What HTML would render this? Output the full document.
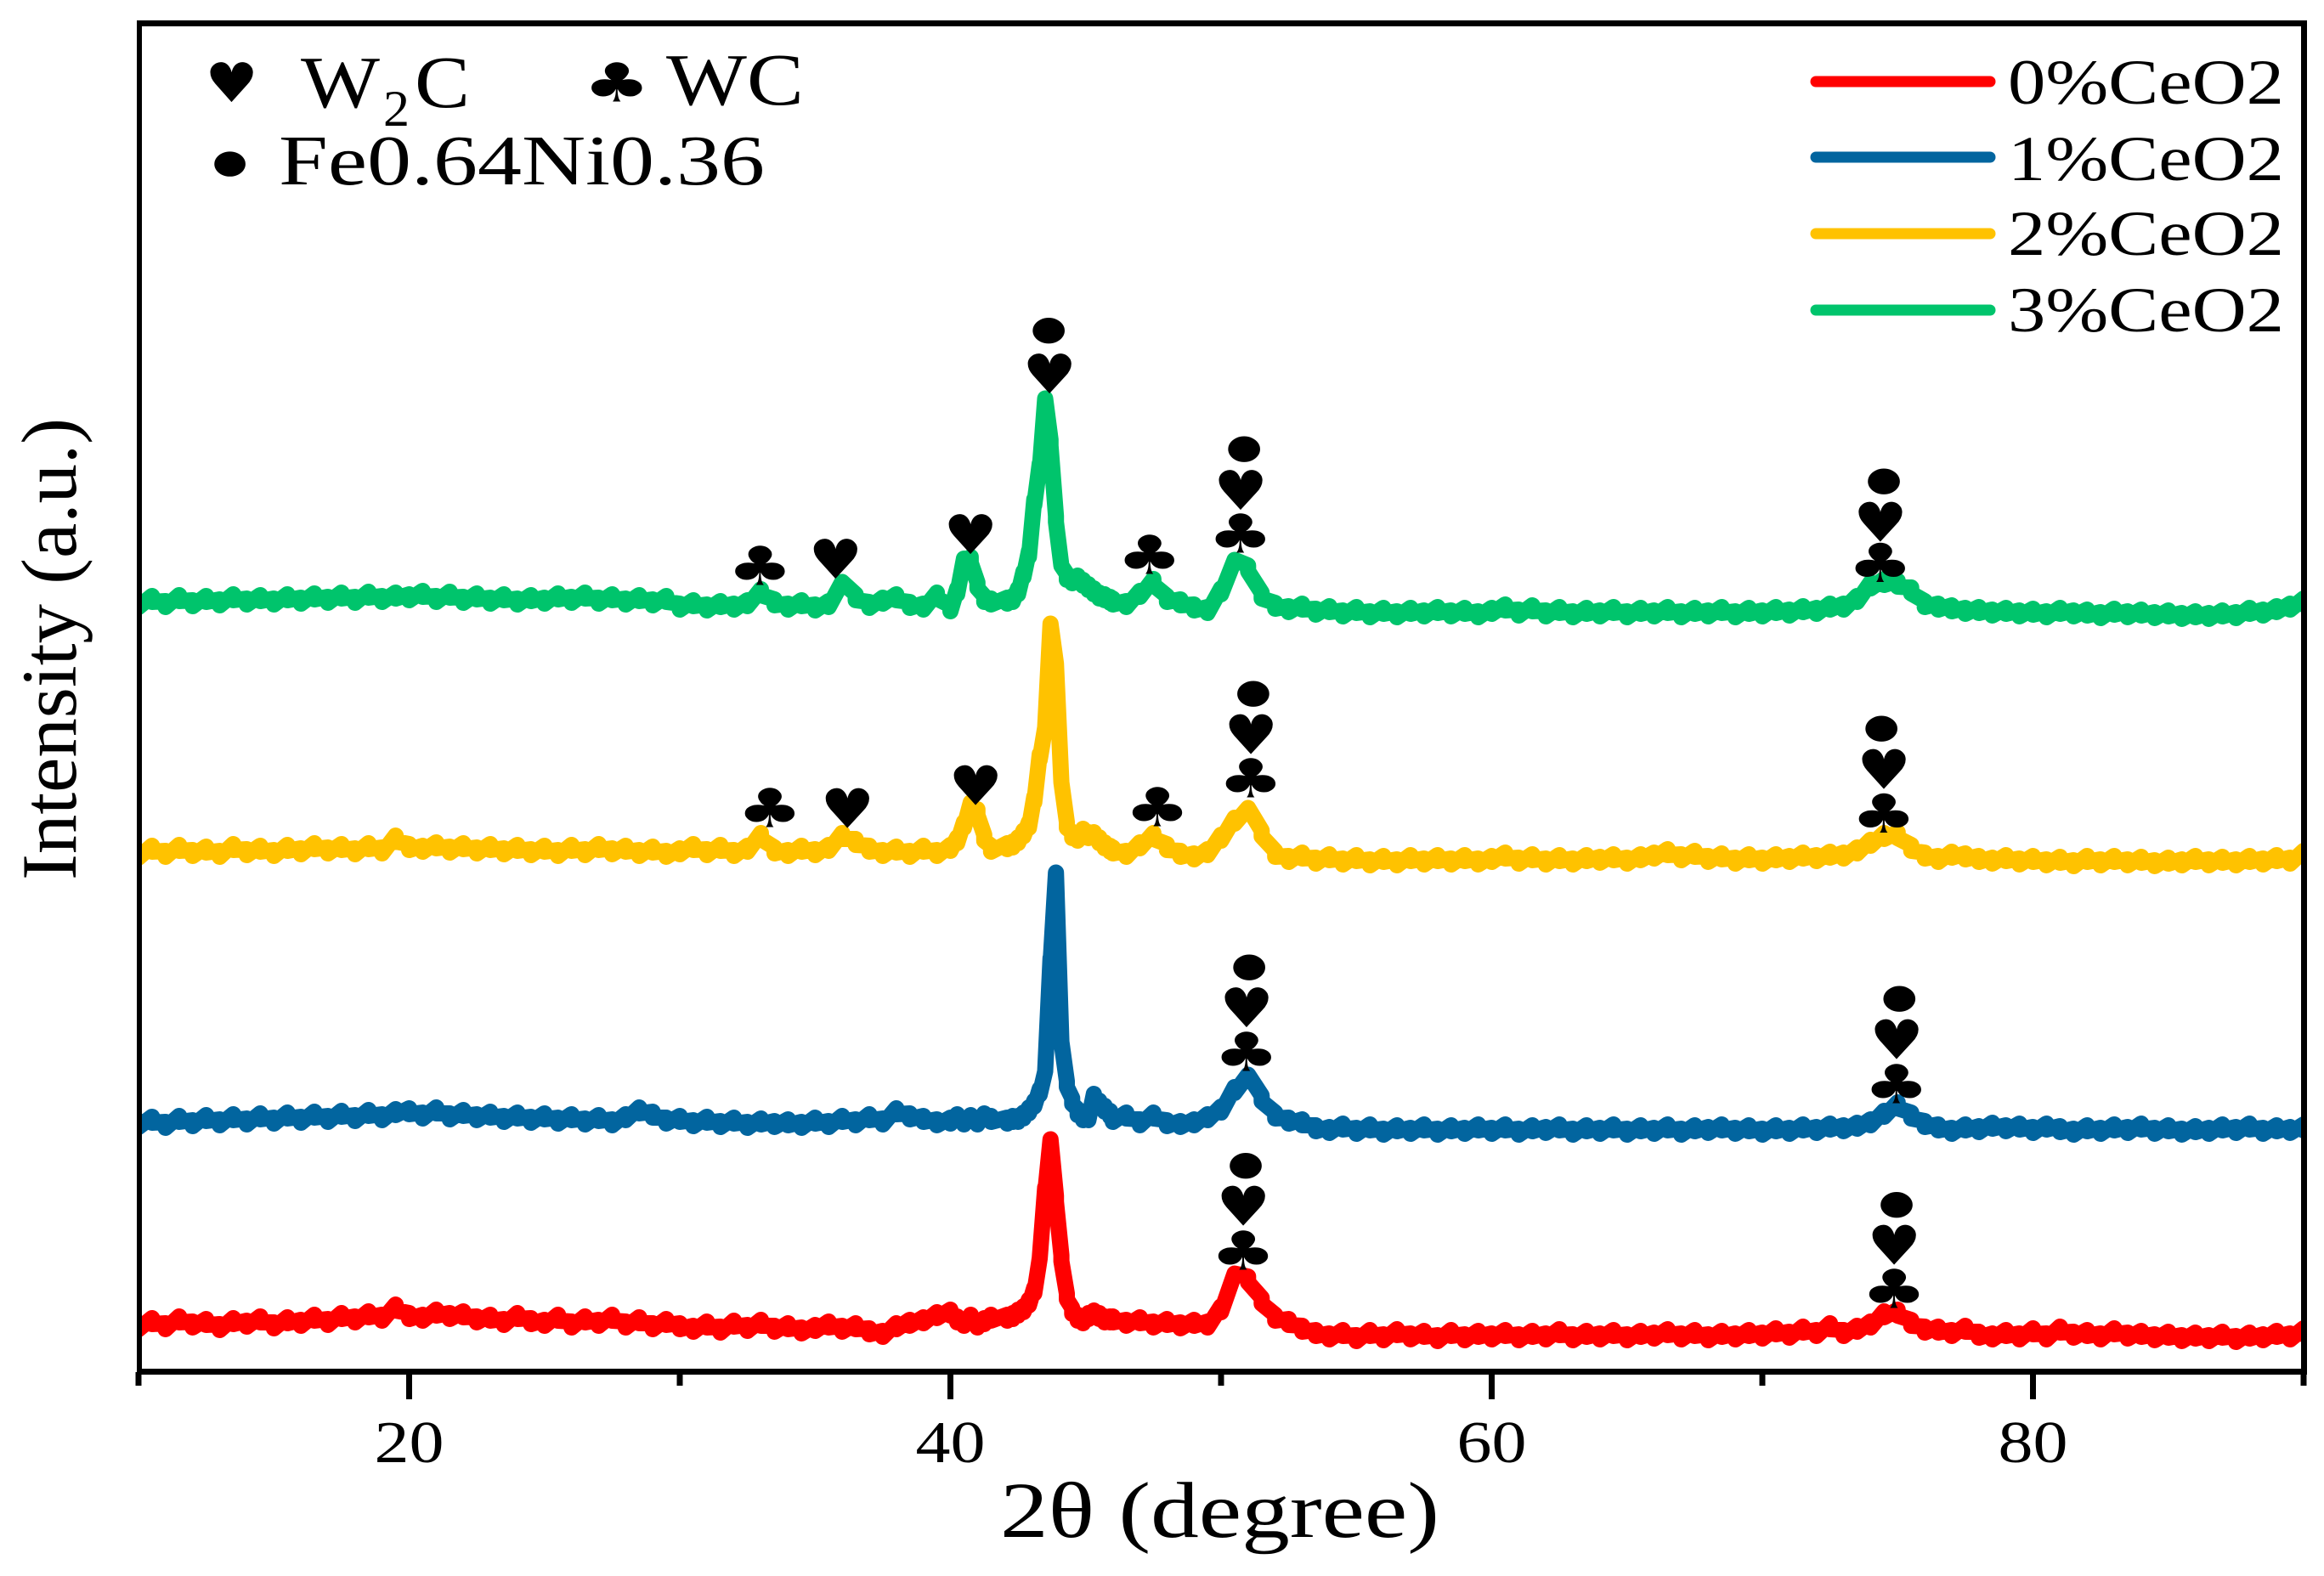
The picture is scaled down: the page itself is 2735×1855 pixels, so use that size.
<!DOCTYPE html>
<html lang="en">
<head>
<meta charset="utf-8">
<title>XRD patterns of CeO2-doped samples</title>
<style>
html,body{margin:0;padding:0;background:#fff;width:2735px;height:1855px;overflow:hidden}
svg{display:block}
text{font-family:"Liberation Serif",serif;fill:#000}
.sym{font-family:"DejaVu Sans",sans-serif}
</style>
</head>
<body>
<svg id="chart" xmlns="http://www.w3.org/2000/svg" width="2735" height="1855" viewBox="0 0 2735 1855">
  <defs><clipPath id="plot-clip"><rect x="161" y="24" width="2554" height="1594"/></clipPath></defs>
  <rect x="0" y="0" width="2735" height="1855" fill="#fff"/>
  <g id="series-layer" clip-path="url(#plot-clip)"></g>
  <g id="marker-layer"></g>
  <g id="axis-layer">
    <rect x="161" y="24" width="2554" height="7" fill="#000"/>
    <rect x="161" y="24" width="6" height="1594" fill="#000"/>
    <rect x="2708" y="24" width="7" height="1594" fill="#000"/>
    <rect x="161" y="1611" width="2554" height="7" fill="#000"/>
  </g>
  <text x="1177" y="1809" font-size="93" textLength="517" lengthAdjust="spacingAndGlyphs">2θ (degree)</text>
  <text transform="translate(89,1036) rotate(-90)" font-size="92" textLength="544" lengthAdjust="spacingAndGlyphs">Intensity (a.u.)</text>

  <g>
    <text x="354" y="126" font-size="87" textLength="93" lengthAdjust="spacingAndGlyphs">W</text>
    <text x="451" y="148" font-size="60" textLength="31" lengthAdjust="spacingAndGlyphs">2</text>
    <text x="488" y="126" font-size="87" textLength="65" lengthAdjust="spacingAndGlyphs">C</text>
    <text x="784" y="123" font-size="87" textLength="162" lengthAdjust="spacingAndGlyphs">WC</text>
    <text x="328" y="217" font-size="84" textLength="572" lengthAdjust="spacingAndGlyphs">Fe0.64Ni0.36</text>
  </g>

  <g>
    <line x1="2137" x2="2342" y1="96" y2="96" stroke="#ff0000" stroke-width="13" stroke-linecap="round"/>
    <text x="2363" y="122" font-size="75" textLength="325" lengthAdjust="spacingAndGlyphs">0%CeO2</text>
    <line x1="2137" x2="2342" y1="185" y2="185" stroke="#02659f" stroke-width="13" stroke-linecap="round"/>
    <text x="2363" y="212" font-size="75" textLength="325" lengthAdjust="spacingAndGlyphs">1%CeO2</text>
    <line x1="2137" x2="2342" y1="275" y2="275" stroke="#ffc200" stroke-width="13" stroke-linecap="round"/>
    <text x="2363" y="300" font-size="75" textLength="325" lengthAdjust="spacingAndGlyphs">2%CeO2</text>
    <line x1="2137" x2="2342" y1="365" y2="365" stroke="#00c46c" stroke-width="13" stroke-linecap="round"/>
    <text x="2363" y="390" font-size="75" textLength="325" lengthAdjust="spacingAndGlyphs">3%CeO2</text>
  </g>
</svg>
<script>
/* ---------- chart data ---------- */
const angles = [
10,10.5,11,11.5,12,12.5,13,13.5,14,14.5,15,15.5,16,16.5,17,17.5,18,18.5,19,19.5,
20,20.5,21,21.5,22,22.5,23,23.5,24,24.5,25,25.5,26,26.5,27,27.5,28,28.5,29,29.5,
30,30.5,31,31.5,32,32.5,33,33.5,34,34.5,35,35.5,36,36.5,37,37.5,38,38.5,39,39.5,
40,40.25,40.5,40.75,41,41.25,41.5,
42.1,42.3,42.5,42.7,42.9,43.1,43.3,43.5,43.7,43.9,44.1,44.3,44.5,44.7,44.9,45.1,45.3,45.5,45.7,45.9,
46,46.5,47,47.5,48,48.5,49,49.5,
50,50.5,51,51.5,52,52.5,53,53.5,54,54.5,55,55.5,56,56.5,57,57.5,58,58.5,59,59.5,
60,60.5,61,61.5,62,62.5,63,63.5,64,64.5,65,65.5,66,66.5,67,67.5,68,68.5,69,69.5,
70,70.5,71,71.5,72,72.5,73,73.5,74,74.5,75,75.5,76,76.5,77,77.5,78,78.5,79,79.5,
80,80.5,81,81.5,82,82.5,83,83.5,84,84.5,85,85.5,86,86.5,87,87.5,88,88.5,89,89.5,
90];

const intensity0 = [
50,56,50,58,52,55,49,56,53,58,51,57,54,60,55,62,58,64,60,72,
62,60,66,62,64,58,60,55,62,56,54,60,52,58,54,60,52,57,50,55,
50,47,52,46,53,48,54,47,50,45,48,52,47,50,44,41,50,54,57,63,
66,58,54,60,52,56,60,
60,62,66,70,78,92,130,210,270,200,130,85,68,60,57,62,65,62,58,58,
58,54,57,52,55,51,54,52,
70,112,105,80,60,55,47,42,38,42,36,42,37,43,38,41,36,42,37,41,
38,42,37,41,38,43,37,41,38,42,37,41,39,43,38,42,37,41,38,42,
39,44,40,46,42,50,42,47,52,64,66,54,46,46,42,47,40,38,42,38,
44,38,46,40,42,38,44,39,41,37,40,36,39,36,40,35,39,37,41,38,
44];

const intensity1 = [
288,293,287,294,289,295,290,296,291,297,292,298,293,299,294,300,295,301,296,302,
303,298,304,297,301,296,299,294,298,293,297,292,296,291,295,290,296,304,299,292,
294,289,293,288,292,287,291,288,290,287,292,288,294,290,296,291,303,297,294,290,
292,296,291,295,291,297,294,
292,294,294,298,304,312,326,350,480,584,385,335,315,302,296,296,320,312,306,300,
294,298,290,298,289,288,290,296,
305,328,346,318,298,292,290,283,281,285,280,284,279,283,280,284,279,283,280,284,
280,284,279,283,281,284,279,283,280,284,279,283,280,284,279,283,281,284,280,283,
279,283,280,284,281,285,283,286,290,300,310,298,288,284,280,284,282,286,283,285,
281,285,282,279,283,280,284,281,285,280,283,279,282,280,284,281,285,280,283,281,
284];

const intensity2 = [
605,612,606,613,607,611,606,614,608,612,607,613,609,615,610,614,609,615,610,624,
614,612,616,611,615,610,614,609,613,608,612,607,613,608,614,609,612,607,611,606,
609,614,608,613,607,612,627,610,607,612,608,613,627,620,612,607,611,606,612,607,
613,622,640,663,655,625,612,
615,617,622,630,640,670,720,755,877,830,690,640,628,625,632,628,628,622,616,612,
610,606,616,627,614,606,603,608,
625,645,660,630,606,600,604,598,602,597,601,596,600,596,601,597,601,597,601,597,
600,604,598,602,597,601,597,601,599,602,598,602,604,608,602,606,600,603,598,602,
598,602,600,604,601,605,604,610,619,627,628,613,604,600,605,603,600,598,601,597,
600,596,599,595,600,596,600,596,599,595,598,596,600,596,599,596,600,597,601,598,
606];

const intensity3 = [
900,906,900,907,901,906,902,908,903,907,903,908,904,909,905,910,905,911,906,910,
908,912,906,911,905,909,904,908,903,907,904,909,905,910,904,908,903,907,902,906,
897,901,896,900,897,901,914,902,897,901,896,900,926,908,899,904,908,899,897,910,
895,915,950,952,922,906,903,
904,906,915,935,959,1020,1062,1142,1090,1000,945,932,928,930,925,920,915,910,908,905,
903,900,912,926,906,902,896,893,
915,952,942,910,898,894,897,891,894,889,893,888,892,888,892,889,893,889,892,888,
892,896,890,895,889,893,888,892,889,893,888,892,889,893,888,892,889,893,888,892,
889,893,890,894,892,897,897,906,922,926,924,916,900,897,895,892,893,890,892,889,
891,888,892,889,890,887,891,888,890,887,889,886,888,886,889,887,892,890,894,897,
903];

const seriesNames = ["0-ceo2","1-ceo2","2-ceo2","3-ceo2"];
const seriesValues = [intensity0,intensity1,intensity2,intensity3];
const seriesColors = ["#ff0000","#02659f","#ffc200","#00c46c"];

const majorTicks = [20,40,60,80];
const minorTicks = [10,30,50,70,90];
const tickLabels = ["20","40","60","80"];

/* peak annotations: phase symbol, 2-theta, intensity level */
const markerKinds = ["club","heart","heart","circle","heart","club","circle","heart","club","circle","heart","club",
                     "club","heart","heart","club","circle","heart","club","circle","heart","club",
                     "circle","heart","club","circle","heart","club",
                     "circle","heart","club","circle","heart","club"];
const markerAngles = [32.97,35.75,40.74,43.63,43.66,47.36,50.85,50.72,50.72,74.49,74.36,74.36,
                      33.33,36.19,40.93,47.65,51.19,51.1,51.1,74.4,74.49,74.49,
                      51.04,50.94,50.94,75.06,74.96,74.96,
                      50.91,50.82,50.82,74.96,74.87,74.87];
const markerLevels = [945.5,953.5,982.5,1222,1171.5,958.5,1082.5,1034.5,983.5,1044.5,997,949,
                      660.5,660,687,661.5,794.5,747,695.5,753.5,706,654,
                      472.5,425.5,373.5,435.5,388,335.5,
                      239,192,139.5,193,146,94.5];

/* ---------- axis functions ---------- */
const xAxis = { domain:[10,90], range:[163,2711] };
const yAxis = { domain:[0,1587], range:[1611,24] };
function xScale(v){ return xAxis.range[0] + (v-xAxis.domain[0])*(xAxis.range[1]-xAxis.range[0])/(xAxis.domain[1]-xAxis.domain[0]); }
function yScale(v){ return yAxis.range[0] + (v-yAxis.domain[0])*(yAxis.range[1]-yAxis.range[0])/(yAxis.domain[1]-yAxis.domain[0]); }

const NS = "http://www.w3.org/2000/svg";
const seriesLayer = document.getElementById("series-layer");
const markerLayer = document.getElementById("marker-layer");
const axisLayer = document.getElementById("axis-layer");

/* ---------- series: thick noisy trace, each reading drawn with a small vertical spread ---------- */
seriesValues.forEach(function(vals, s){
  let d = "";
  for (let i = 0; i < angles.length; i++) {
    const x = xScale(angles[i]).toFixed(1);
    const y = yScale(vals[i]);
    const prev = vals[Math.max(i - 1, 0)];
    const next = vals[Math.min(i + 1, vals.length - 1)];
    const spread = Math.abs(2 * vals[i] - prev - next) > 40 ? 0 : 3.5;
    d += (i ? "L" : "M") + x + " " + (y - spread).toFixed(1) + "L" + x + " " + (y + spread).toFixed(1);
  }
  const p = document.createElementNS(NS, "path");
  p.setAttribute("d", d);
  p.setAttribute("fill", "none");
  p.setAttribute("stroke", seriesColors[s]);
  p.setAttribute("stroke-width", "19");
  p.setAttribute("stroke-linejoin", "round");
  p.setAttribute("stroke-linecap", "round");
  
  
  seriesLayer.appendChild(p);
});

/* ---------- ticks ---------- */
function addTick(v, bottom, name){
  const r = document.createElementNS(NS, "rect");
  r.setAttribute("x", (xScale(v) - 3.5).toFixed(1));
  r.setAttribute("y", "1615");
  r.setAttribute("width", "7");
  r.setAttribute("height", String(bottom - 1615));
  r.setAttribute("fill", "#000");
  
  
  axisLayer.appendChild(r);
}
majorTicks.forEach(function(v, i){
  addTick(v, 1647, 'x-major-tick-' + v);
  const t = document.createElementNS(NS, "text");
  t.setAttribute("x", (xScale(v) - 41).toFixed(1));
  t.setAttribute("y", "1721");
  t.setAttribute("font-size", "70");
  t.setAttribute("textLength", "82");
  t.setAttribute("lengthAdjust", "spacingAndGlyphs");
  t.textContent = tickLabels[i];
  
  
  axisLayer.appendChild(t);
});
minorTicks.forEach(function(v){
  addTick(v, 1631, 'x-minor-tick-' + v);
});

/* ---------- symbols fitted by ink box ---------- */
const glyphs = { heart:"\u2665", club:"\u2663", circle:"\u25CF" };
const glyphSize = { heart:[52,47], club:[59,47], circle:[38,31] };
const ctx = document.createElement("canvas").getContext("2d");
ctx.font = '100px "DejaVu Sans"';
function placeSymbol(parent, kind, cx, cy, w, h, name){
  const m = ctx.measureText(glyphs[kind]);
  const inkW = m.actualBoundingBoxLeft + m.actualBoundingBoxRight;
  const inkH = m.actualBoundingBoxAscent + m.actualBoundingBoxDescent;
  const sx = w / inkW, sy = h / inkH;
  const tx = cx - sx * (m.actualBoundingBoxRight - m.actualBoundingBoxLeft) / 2;
  const ty = cy + sy * (m.actualBoundingBoxAscent - m.actualBoundingBoxDescent) / 2;
  const t = document.createElementNS(NS, "text");
  t.setAttribute("class", "sym");
  t.setAttribute("font-size", "100");
  t.setAttribute("transform", "translate(" + tx.toFixed(2) + "," + ty.toFixed(2) + ") scale(" + sx.toFixed(4) + "," + sy.toFixed(4) + ")");
  t.textContent = glyphs[kind];
  
  
  parent.appendChild(t);
}
markerKinds.forEach(function(kind, i){
  const sz = glyphSize[kind];
  placeSymbol(markerLayer, kind, xScale(markerAngles[i]), yScale(markerLevels[i]), sz[0], sz[1], 'peak-marker-' + kind);
});
placeSymbol(markerLayer, "heart", 272.5, 96.5, 51, 47, 'phase-symbol-w2c');
placeSymbol(markerLayer, "club", 726, 96.5, 60, 47, 'phase-symbol-wc');
placeSymbol(markerLayer, "circle", 270.5, 193, 37, 30, 'phase-symbol-feni');
</script>
</body>
</html>
